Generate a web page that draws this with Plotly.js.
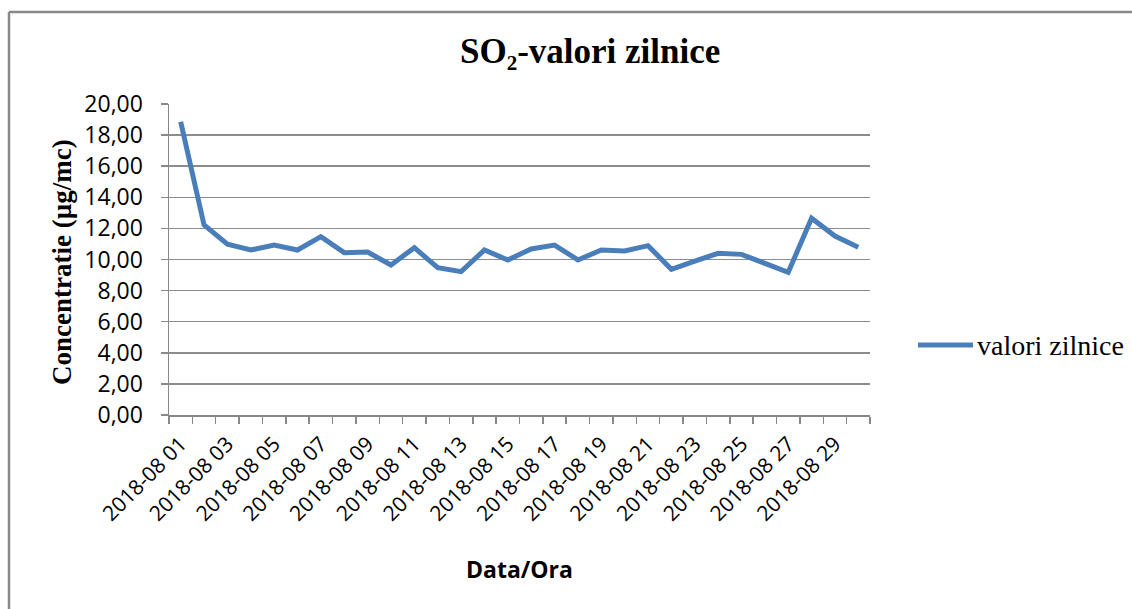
<!DOCTYPE html>
<html>
<head>
<meta charset="utf-8">
<script src="https://cdn.plot.ly/plotly-3.0.1.min.js"></script>
<style>
html,body{margin:0;padding:0;background:#fff;}
#chart{width:1132px;height:609px;}
</style>
</head>
<body>
<div id="chart"></div>
<script>
const categories = ["2018-08 01","2018-08 02","2018-08 03","2018-08 04","2018-08 05","2018-08 06","2018-08 07","2018-08 08","2018-08 09","2018-08 10",
"2018-08 11","2018-08 12","2018-08 13","2018-08 14","2018-08 15","2018-08 16","2018-08 17","2018-08 18","2018-08 19","2018-08 20",
"2018-08 21","2018-08 22","2018-08 23","2018-08 24","2018-08 25","2018-08 26","2018-08 27","2018-08 28","2018-08 29","2018-08 30"];
const valoriZilnice = [18.86,12.22,10.98,10.61,10.93,10.61,11.47,10.44,10.48,9.65,
10.76,9.47,9.22,10.61,9.97,10.68,10.93,9.97,10.61,10.55,
10.89,9.37,9.90,10.40,10.33,9.75,9.18,12.65,11.51,10.78];
const shownLabels = ["2018-08 01","2018-08 03","2018-08 05","2018-08 07","2018-08 09","2018-08 11","2018-08 13","2018-08 15",
"2018-08 17","2018-08 19","2018-08 21","2018-08 23","2018-08 25","2018-08 27","2018-08 29"];
const yTicks = [0,2,4,6,8,10,12,14,16,18,20];
const yTickText = ["0,00","2,00","4,00","6,00","8,00","10,00","12,00","14,00","16,00","18,00","20,00"];

const tickText = categories.map(c => shownLabels.includes(c) ? c : "");

const L = 169, R = 870, T = 104, B = 415, W = 1132, H = 609;
const px = x => (x - L) / (R - L);
const py = y => (B - y) / (B - T);

const trace = {
  x: categories, y: valoriZilnice, type: "scatter", mode: "lines",
  name: "valori zilnice",
  line: {color: "#4a7ebb", width: 5},
  showlegend: false
};

const layout = {
  width: W, height: H,
  margin: {l: L, r: W - R, t: T, b: H - B, pad: 0},
  paper_bgcolor: "#fff", plot_bgcolor: "#fff",
  showlegend: false,
  xaxis: {
    type: "category", tickmode: "array", tickvals: categories, ticktext: tickText,
    tickson: "boundaries", ticks: "outside", ticklen: 7, tickcolor: "#888", tickwidth: 1.5,
    showline: true, linecolor: "#888", linewidth: 1.5, showgrid: false,
    tickangle: -45, tickfont: {family: "Open Sans, Liberation Sans, sans-serif", size: 21, color: "#000"},
    ticklabelstandoff: 7,
    range: [-0.5, 29.5], fixedrange: true, automargin: false
  },
  yaxis: {
    range: [0, 20], tickmode: "array", tickvals: yTicks, ticktext: yTickText,
    ticks: "outside", ticklen: 7, tickcolor: "#888", tickwidth: 1.5,
    showline: true, linecolor: "#888", linewidth: 1.5,
    showgrid: true, gridcolor: "#8c8c8c", gridwidth: 1.5, zeroline: false,
    tickfont: {family: "Open Sans, Liberation Sans, sans-serif", size: 23, color: "#000"},
    ticklabelstandoff: 13,
    fixedrange: true, automargin: false
  },
  shapes: [
    {type: "line", xref: "paper", yref: "paper", x0: px(9), x1: px(1140), y0: py(12), y1: py(12), line: {color: "#888", width: 2.5}},
    {type: "line", xref: "paper", yref: "paper", x0: px(9), x1: px(9), y0: py(12), y1: py(620), line: {color: "#888", width: 2.5}},
    {type: "line", xref: "paper", yref: "paper", x0: px(918), x1: px(973), y0: py(345), y1: py(345), line: {color: "#4a7ebb", width: 5}}
  ],
  annotations: [
    {text: "<b>SO₂-valori zilnice</b>", xref: "paper", yref: "paper", x: px(590), y: py(52), xanchor: "center", yanchor: "middle", showarrow: false,
     font: {family: "Liberation Serif, serif", size: 35, color: "#000"}},
    {text: "<b>Concentratie (µg/mc)</b>", xref: "paper", yref: "paper", x: px(62), y: py(262), xanchor: "center", yanchor: "middle", textangle: -90, showarrow: false,
     font: {family: "Liberation Serif, serif", size: 27, color: "#000"}},
    {text: "<b>Data/Ora</b>", xref: "paper", yref: "paper", x: px(519), y: py(569), xanchor: "center", yanchor: "middle", showarrow: false,
     font: {family: "Open Sans, Liberation Sans, sans-serif", size: 23, color: "#000"}},
    {text: "valori zilnice", xref: "paper", yref: "paper", x: px(975), y: py(345), xanchor: "left", yanchor: "middle", showarrow: false,
     font: {family: "Liberation Serif, serif", size: 28, color: "#000"}}
  ]
};

Plotly.newPlot("chart", [trace], layout, {displayModeBar: false, staticPlot: true});
</script>
</body>
</html>
